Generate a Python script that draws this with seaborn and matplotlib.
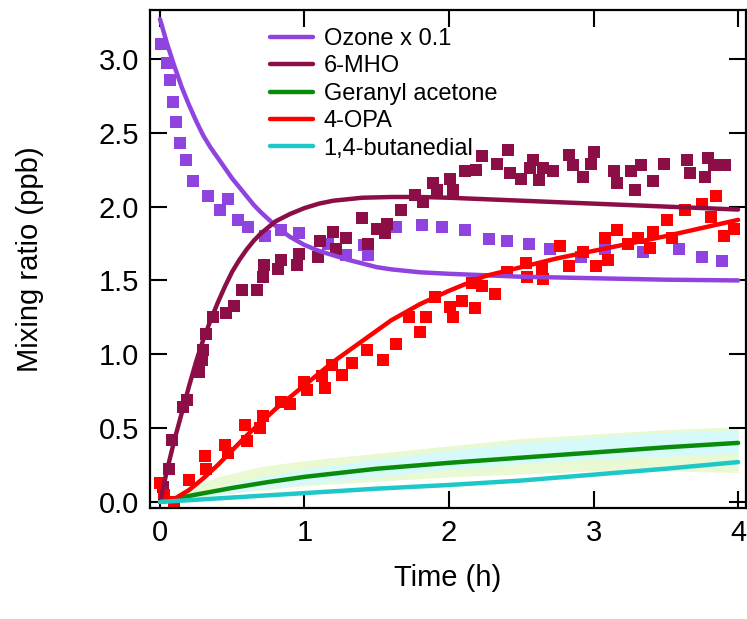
import numpy as np
import pandas as pd
import matplotlib
matplotlib.use('Agg')
import matplotlib.pyplot as plt
import seaborn as sns

# ---- measured data (time in h, mixing ratio in ppb) ----
ozone_t = [0.01, 0.05, 0.07, 0.09, 0.11, 0.14, 0.18, 0.23, 0.33, 0.415, 0.47, 0.54, 0.61,
           0.73, 0.84, 0.96, 1.165, 1.29, 1.41, 1.44, 1.63, 1.81, 1.95, 2.11, 2.28, 2.40,
           2.55, 2.70, 2.91, 3.08, 3.34, 3.59, 3.75, 3.89]
ozone_y = [3.10, 2.97, 2.86, 2.71, 2.57, 2.43, 2.315, 2.17, 2.07, 1.98, 2.05, 1.91, 1.865,
           1.80, 1.84, 1.82, 1.75, 1.67, 1.74, 1.67, 1.865, 1.875, 1.86, 1.84, 1.78, 1.77,
           1.75, 1.71, 1.66, 1.71, 1.695, 1.71, 1.66, 1.63]

mho_t = [0.02, 0.06, 0.08, 0.16, 0.185, 0.27, 0.29, 0.30, 0.32, 0.37, 0.46, 0.51, 0.565,
         0.67, 0.715, 0.72, 0.82, 0.84, 0.95, 0.96, 1.095, 1.11, 1.20, 1.22, 1.29, 1.395,
         1.44, 1.50, 1.56, 1.57, 1.67, 1.765, 1.82, 1.89, 1.915, 2.01, 2.03, 2.11, 2.19,
         2.23, 2.33, 2.41, 2.42, 2.50, 2.56, 2.58, 2.62, 2.65, 2.72, 2.83, 2.86, 2.93,
         2.98, 3.00, 3.14, 3.16, 3.26, 3.29, 3.33, 3.41, 3.49, 3.645, 3.67, 3.77, 3.79,
         3.83, 3.91]
mho_y = [0.10, 0.22, 0.42, 0.645, 0.69, 0.88, 0.96, 1.03, 1.14, 1.255, 1.28, 1.33, 1.435,
         1.435, 1.525, 1.605, 1.58, 1.64, 1.605, 1.68, 1.66, 1.77, 1.83, 1.71, 1.785, 1.92,
         1.75, 1.85, 1.82, 1.885, 1.98, 2.08, 2.03, 2.16, 2.11, 2.19, 2.11, 2.24, 2.25,
         2.34, 2.29, 2.38, 2.225, 2.19, 2.26, 2.315, 2.18, 2.26, 2.24, 2.35, 2.28, 2.20,
         2.29, 2.37, 2.24, 2.16, 2.24, 2.11, 2.28, 2.17, 2.29, 2.315, 2.225, 2.20, 2.33,
         2.28, 2.28]

opa_t = [0.0, 0.03, 0.10, 0.20, 0.31, 0.32, 0.45, 0.47, 0.59, 0.60, 0.69, 0.715, 0.84,
         0.90, 1.00, 1.015, 1.12, 1.14, 1.19, 1.26, 1.33, 1.43, 1.545, 1.63, 1.72, 1.80,
         1.84, 1.90, 2.01, 2.03, 2.09, 2.16, 2.18, 2.23, 2.32, 2.40, 2.53, 2.54, 2.64,
         2.65, 2.77, 2.83, 2.93, 3.02, 3.08, 3.10, 3.16, 3.24, 3.31, 3.39, 3.41, 3.51,
         3.54, 3.63, 3.75, 3.81, 3.85, 3.90, 3.97]
opa_y = [0.127, 0.05, 0.0, 0.15, 0.31, 0.22, 0.385, 0.33, 0.52, 0.41, 0.50, 0.58, 0.68,
         0.66, 0.815, 0.76, 0.85, 0.77, 0.93, 0.86, 0.94, 1.03, 0.96, 1.07, 1.25, 1.15,
         1.25, 1.39, 1.32, 1.255, 1.36, 1.48, 1.31, 1.46, 1.41, 1.56, 1.62, 1.525, 1.58,
         1.51, 1.73, 1.60, 1.695, 1.60, 1.785, 1.64, 1.84, 1.75, 1.785, 1.72, 1.83, 1.91,
         1.785, 1.98, 2.02, 1.93, 2.07, 1.80, 1.85]

# ---- model curves ----
ozone_fit_t = [0, 0.05, 0.1, 0.15, 0.2, 0.25, 0.3, 0.35, 0.4, 0.45, 0.5, 0.55, 0.6, 0.65,
               0.7, 0.75, 0.8, 0.85, 0.9, 1.0, 1.1, 1.2, 1.3, 1.4, 1.5, 1.6, 1.8,
               2.0, 2.5, 3.0, 3.5, 4.0]
ozone_fit_y = [3.27, 3.10, 2.95, 2.81, 2.69, 2.58, 2.48, 2.40, 2.33, 2.26, 2.19, 2.13,
               2.07, 2.01, 1.96, 1.915, 1.87, 1.83, 1.795, 1.74, 1.70, 1.67, 1.64, 1.615,
               1.59, 1.575, 1.555, 1.545, 1.525, 1.515, 1.505, 1.50]

mho_fit_t = [0, 0.05, 0.1, 0.15, 0.2, 0.25, 0.3, 0.35, 0.4, 0.45, 0.5, 0.55, 0.6, 0.65,
             0.7, 0.8, 0.9, 1.0, 1.1, 1.2, 1.4, 1.6, 1.8, 2.0, 2.5, 3.0, 3.5, 4.0]
mho_fit_y = [0, 0.22, 0.42, 0.60, 0.78, 0.95, 1.10, 1.23, 1.35, 1.46, 1.56, 1.64, 1.71,
             1.77, 1.82, 1.90, 1.95, 1.99, 2.02, 2.04, 2.06, 2.065, 2.065, 2.06, 2.04,
             2.02, 2.00, 1.98]

ga_fit_t = [0, 0.25, 0.5, 0.75, 1.0, 1.5, 2.0, 2.5, 3.0, 3.5, 4.0]
ga_fit_y = [0, 0.05, 0.095, 0.135, 0.17, 0.225, 0.265, 0.30, 0.335, 0.37, 0.40]

opa_fit_t = [0, 0.1, 0.2, 0.3, 0.4, 0.5, 0.6, 0.7, 0.8, 0.9, 1.0, 1.2, 1.4, 1.6, 1.8, 2.0,
             2.25, 2.5, 2.75, 3.0, 3.25, 3.5, 3.75, 4.0]
opa_fit_y = [0, 0.02, 0.08, 0.16, 0.25, 0.35, 0.45, 0.54, 0.63, 0.71, 0.79, 0.95, 1.09,
             1.23, 1.34, 1.43, 1.53, 1.59, 1.65, 1.70, 1.75, 1.80, 1.855, 1.91]

bd_fit_t = [0, 0.5, 1.0, 1.5, 2.0, 2.5, 3.0, 3.5, 4.0]
bd_fit_y = [0, 0.03, 0.06, 0.09, 0.115, 0.145, 0.185, 0.225, 0.27]

# uncertainty envelopes
band_t = [0, 0.1, 0.2, 0.4, 0.7, 1.0, 1.5, 2.0, 2.5, 3.0, 3.5, 4.0]
ga_hi = [0, 0.06, 0.10, 0.17, 0.24, 0.28, 0.33, 0.38, 0.43, 0.46, 0.49, 0.51]
ga_lo = [0, 0.01, 0.02, 0.05, 0.08, 0.11, 0.14, 0.17, 0.19, 0.21, 0.21, 0.20]
bd_hi = [0, 0.02, 0.05, 0.10, 0.17, 0.22, 0.29, 0.35, 0.40, 0.44, 0.47, 0.49]
bd_lo = [0, 0.01, 0.03, 0.05, 0.09, 0.12, 0.17, 0.22, 0.26, 0.29, 0.31, 0.33]

names = ['Ozone x 0.1', '6-MHO', 'Geranyl acetone', '4-OPA', '1,4-butanedial']
colors = ['#8F44E0', '#8B0E47', '#0A8C0A', '#FF0000', '#1EC8C8']

sns.set_style('ticks')
plt.rcParams['font.family'] = ['Liberation Sans', 'DejaVu Sans']
plt.rcParams['text.color'] = 'black'
plt.rcParams['axes.labelcolor'] = 'black'
plt.rcParams['xtick.color'] = 'black'
plt.rcParams['ytick.color'] = 'black'

fig = plt.figure(figsize=(7.47, 6.19), dpi=100)
ax = fig.add_axes([0.2008, 0.1793, 0.7979, 0.8045])

# shaded ranges
ax.fill_between(band_t, ga_lo, ga_hi, color='#E9F9D4', lw=0, zorder=0)
ax.fill_between(band_t, bd_lo, bd_hi, color='#D6FAFA', lw=0, zorder=0)

# measurements
for t, y, c in [(ozone_t, ozone_y, colors[0]), (mho_t, mho_y, colors[1]), (opa_t, opa_y, colors[3])]:
    sns.scatterplot(x=t, y=y, marker='s', s=72, color=c, linewidth=0, ax=ax, legend=False, zorder=2)

# model lines
fits = [(ozone_fit_t, ozone_fit_y), (mho_fit_t, mho_fit_y), (ga_fit_t, ga_fit_y),
        (opa_fit_t, opa_fit_y), (bd_fit_t, bd_fit_y)]
for (t, y), name, c in zip(fits, names, colors):
    df = pd.DataFrame({'t': t, 'y': y})
    sns.lineplot(data=df, x='t', y='y', color=c, lw=3.2, ax=ax, label=name,
                 estimator=None, sort=False, zorder=3)

ax.set_xlim(-0.069, 4.055)
ax.set_ylim(-0.041, 3.331)
ax.set_xticks([0, 1, 2, 3, 4])
ax.set_yticks([0.0, 0.5, 1.0, 1.5, 2.0, 2.5, 3.0])
ax.set_yticklabels(['0.0', '0.5', '1.0', '1.5', '2.0', '2.5', '3.0'])
ax.tick_params(direction='in', length=12, width=1.5, top=True, right=True,
               labelsize=21, pad=8, color='black', labelcolor='black')
for s in ax.spines.values():
    s.set_linewidth(1.6)
    s.set_color('black')

ax.set_xlabel('Time (h)', fontsize=21)
ax.set_ylabel('Mixing ratio (ppb)', fontsize=21)
ax.xaxis.set_label_coords(0.5, -0.112)
ax.yaxis.set_label_coords(-0.178, 0.5)

leg = ax.legend(loc='upper left', bbox_to_anchor=(0.202, 0.964), frameon=False, fontsize=17,
                handlelength=1.8, handletextpad=0.45, labelspacing=0.23, borderpad=0,
                borderaxespad=0)
for txt in leg.get_texts():
    txt.set_color('black')

fig.savefig('out.png', dpi=100)
